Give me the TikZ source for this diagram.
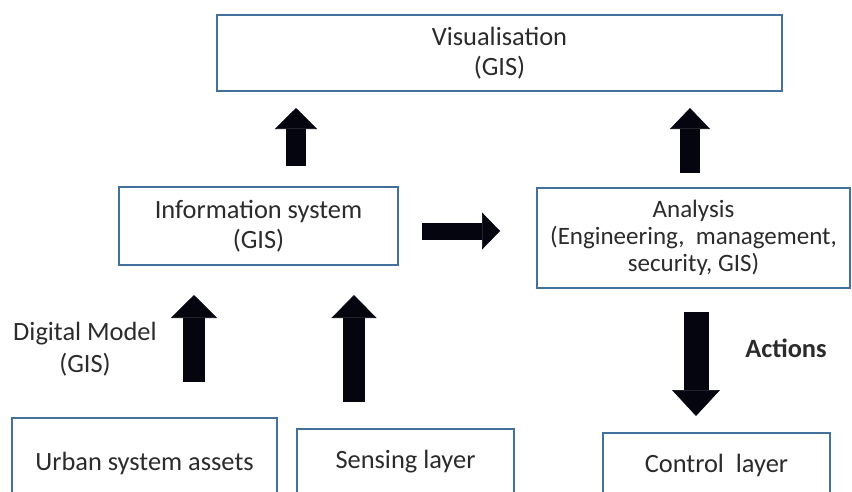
\documentclass[tikz,border=0pt]{standalone}
\usepackage{fontspec}
\setmainfont{Carlito}
\usetikzlibrary{arrows.meta}
\definecolor{boxline}{HTML}{41719C}
\definecolor{ink}{HTML}{2B2B2B}
\definecolor{blockfill}{HTML}{050510}
\tikzset{
  box/.style={draw=boxline, line width=2.2pt, fill=white, text=ink, align=center,
    inner sep=0pt, font=\fontsize{26.4}{30}\selectfont},
  label/.style={text=ink, align=center, inner sep=0pt, font=\fontsize{26.4}{32}\selectfont},
  blockarrow/.style n args={3}{draw=blockfill, line width=#1,
    -{Triangle[length=#3, width=#2, line width=0.6pt]}},
}
\begin{document}
\begin{tikzpicture}[x=1pt, y=-1pt]
  \useasboundingbox (0,0) rectangle (852,491);
  \clip (0,0) rectangle (852,491);

  % boxes
  \node[box, minimum width=565pt, minimum height=76pt] (vis) at (499.5,53) {Visualisation\\(GIS)};
  \node[box, minimum width=279pt, minimum height=78pt] (info) at (258.5,226) {Information system\\(GIS)};
  \node[box, minimum width=313pt, minimum height=100pt, font=\fontsize{25}{27}\selectfont] (ana) at (693.5,238)
    {Analysis\\(Engineering,\ \ management,\\security, GIS)};
  \node[box, minimum width=265pt, minimum height=90pt] (urban) at (144.5,463) {Urban system assets};
  \node[box, minimum width=217pt, minimum height=66pt] (sense) at (405.5,462) {Sensing layer};
  \node[box, minimum width=227pt, minimum height=64pt] (ctrl) at (716.5,465) {Control\ \ layer};

  % free labels
  \node[label] (dm) at (85,349) {Digital Model\\(GIS)};
  \node[label, font=\fontsize{26.4}{30}\selectfont\bfseries] (act) at (786,348) {Actions};

  % arrow end points
  \coordinate (a1s) at (296,166); \coordinate (a1e) at (296,108);
  \coordinate (a2s) at (690,173); \coordinate (a2e) at (690,108);
  \coordinate (a3s) at (194,382); \coordinate (a3e) at (194,295);
  \coordinate (a4s) at (354,402); \coordinate (a4e) at (354,295);
  \coordinate (a5s) at (422,231); \coordinate (a5e) at (500,231);
  \coordinate (a6s) at (696,312); \coordinate (a6e) at (696,416);

  % block arrows
  \draw[blockarrow={20pt}{42pt}{21pt}] (a1s) -- (a1e);
  \draw[blockarrow={20pt}{40pt}{21pt}] (a2s) -- (a2e);
  \draw[blockarrow={22pt}{46pt}{23pt}] (a3s) -- (a3e);
  \draw[blockarrow={22pt}{45pt}{23pt}] (a4s) -- (a4e);
  \draw[blockarrow={17pt}{37pt}{18pt}] (a5s) -- (a5e);
  \draw[blockarrow={25pt}{48pt}{26pt}] (a6s) -- (a6e);
\end{tikzpicture}
\end{document}
